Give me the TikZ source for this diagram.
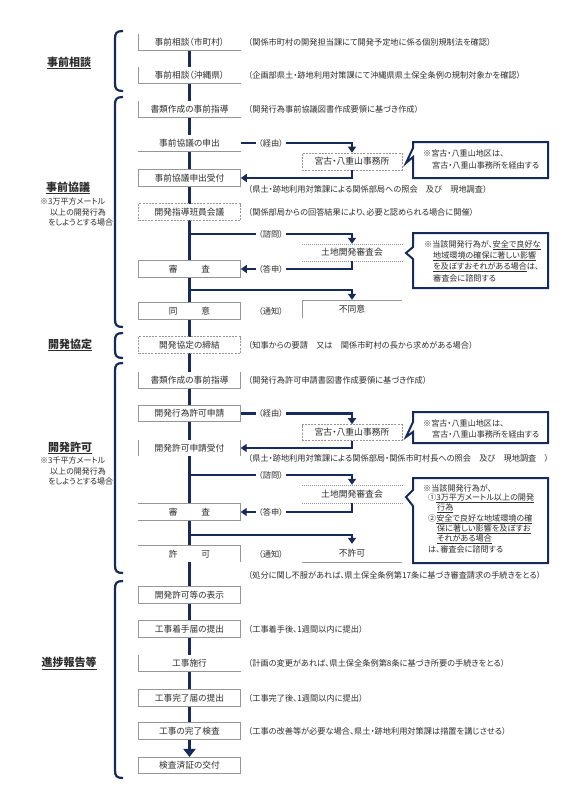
\documentclass[tikz,border=0pt]{standalone}
\usepackage{fontspec}
\setmainfont{Noto Sans CJK JP}[RawFeature={+palt}]
\usetikzlibrary{arrows.meta}
\pgfdeclarelayer{bg}
\pgfsetlayers{bg,main}
\definecolor{navy}{RGB}{22,42,92}
\definecolor{edgegray}{RGB}{150,150,150}
\definecolor{txt}{RGB}{45,45,45}
\newcommand{\sectbrk}[2]{\draw[brk] (123,#1) .. controls (116.5,#1) and (115,#1+2) .. (115,#1+8) -- (115,#2-8) .. controls (115,#2-2) and (116.5,#2) .. (123,#2);}
\begin{document}
\begin{tikzpicture}[x=1pt,y=-1pt,
  every node/.style={text=txt,inner sep=0pt},
  mbox/.style={font=\fontsize{8.7}{10}\selectfont,fill=white,minimum width=102pt,minimum height=16.5pt},
  fbox/.style={mbox,draw=edgegray,line width=0.6pt},
  dbox/.style={mbox,draw=edgegray,line width=0.6pt,dash pattern=on 2pt off 1.2pt},
  sbox/.style={font=\fontsize{8.8}{10}\selectfont,fill=white,minimum width=100pt,minimum height=17pt},
  sdbox/.style={sbox,draw=edgegray,line width=0.6pt,dash pattern=on 2pt off 1.2pt},
  edge/.style={draw=edgegray,line width=0.6pt},
  dotedge/.style={draw=edgegray,line width=0.6pt,dash pattern=on 1pt off 1pt},
  main/.style={draw=navy,line width=3.4pt},
  branch/.style={draw=navy,line width=2.8pt},
  tipd/.style={-{Triangle[width=8pt,length=6pt]}},
  rtext/.style={font=\fontsize{8.2}{10}\selectfont,anchor=west},
  mid/.style={font=\fontsize{8.2}{10}\selectfont,inner xsep=2.5pt},
  sect/.style={font=\fontsize{11}{13}\selectfont\bfseries},
  note/.style={font=\fontsize{8}{10}\selectfont,anchor=west},
  brk/.style={draw=navy,line width=2.2pt},
  callout/.style={draw=navy,line width=2pt,fill=white,line join=miter},
  ctext/.style={font=\fontsize{8.1}{10}\selectfont,anchor=west},
]
\begin{pgfonlayer}{bg}
\fill[white] (0,0) rectangle (566,800);
\end{pgfonlayer}
\useasboundingbox (0,0) rectangle (566,800);

% ---- main column boxes
\node[mbox] (b1) at (189.5,42) {事前相談（市町村）};
\node[mbox] (b2) at (189.5,75) {事前相談（沖縄県）};
\node[mbox] (b3) at (189.5,109) {書類作成の事前指導};
\node[mbox] (b4) at (189.5,143) {事前協議の申出};
\node[fbox] (b5) at (189.5,178) {事前協議申出受付};
\node[dbox] (b6) at (189.5,212) {開発指導班員会議};
\node[fbox] (b7) at (189.5,269) {審\hspace{24pt}査};
\node[fbox] (b8) at (189.5,311) {同\hspace{24pt}意};
\node[dbox] (b9) at (189.5,345) {開発協定の締結};
\node[mbox] (b10) at (189.5,380) {書類作成の事前指導};
\node[fbox] (b11) at (189.5,413.5) {開発行為許可申請};
\node[mbox] (b12) at (189.5,448) {開発許可申請受付};
\node[mbox] (b13) at (189.5,512) {審\hspace{24pt}査};
\node[mbox] (b14) at (189.5,554) {許\hspace{24pt}可};
\node[fbox] (b15) at (189.5,595) {開発許可等の表示};
\node[fbox] (b16) at (189.5,629) {工事着手届の提出};
\node[mbox] (b17) at (189.5,663) {工事施行};
\node[fbox] (b18) at (189.5,698) {工事完了届の提出};
\node[fbox] (b19) at (189.5,731) {工事の完了検査};
\node[fbox] (b20) at (189.5,765.5) {検査済証の交付};

% partial borders
\draw[edge] (b1.north west) -- (b1.south west) -- (b1.south east);
\draw[edge] (b2.north west) -- (b2.south west) -- (b2.south east);
\draw[edge] (b3.north west) -- (b3.south west) -- (b3.south east);
\draw[edge] (b4.south west) -- (b4.south east);
\draw[edge] (b10.north west) -- (b10.south west) -- (b10.south east) -- (b10.north east);
\draw[edge] (b12.north west) -- (b12.south west);
\draw[edge] (b12.north east) -- (b12.south east);
\draw[edge] (b13.north west) -- (b13.north east) -- (b13.south east) -- (b13.south west);
\draw[edge] (b14.north west) -- (b14.north east) -- (b14.south east);
\draw[edge] (b17.north west) -- (b17.south west) -- (b17.south east);

% main vertical line
\begin{pgfonlayer}{bg}
\draw[main,-{Triangle[width=12pt,length=8pt]}] (b1.south) -- (b20.north);
\end{pgfonlayer}

% ---- right-hand remarks
\node[rtext] (r1) at (248,42) {（関係市町村の開発担当課にて開発予定地に係る個別規制法を確認）};
\node[rtext] (r2) at (248,75) {（企画部県土・跡地利用対策課にて沖縄県県土保全条例の規制対象かを確認）};
\node[rtext] (r3) at (248,109) {（開発行為事前協議図書作成要領に基づき作成）};
\node[rtext] (r5) at (248,189) {（県土・跡地利用対策課による関係部局への照会　及び　現地調査）};
\node[rtext] (r6) at (248,212) {（関係部局からの回答結果により、必要と認められる場合に開催）};
\node[rtext] (r9) at (248,345) {（知事からの要請　又は　関係市町村の長から求めがある場合）};
\node[rtext] (r10) at (248,380) {（開発行為許可申請書図書作成要領に基づき作成）};
\node[rtext] (r12) at (248,458) {（県土・跡地利用対策課による関係部局・関係市町村長への照会　及び　現地調査　）};
\node[rtext] (r14) at (248,575) {（処分に関し不服があれば、県土保全条例第17条に基づき審査請求の手続きをとる）};
\node[rtext] (r16) at (248,629) {（工事着手後、1週間以内に提出）};
\node[rtext] (r17) at (248,663) {（計画の変更があれば、県土保全条例第8条に基づき所要の手続きをとる）};
\node[rtext] (r18) at (248,698) {（工事完了後、1週間以内に提出）};
\node[rtext] (r19) at (248,731) {（工事の改善等が必要な場合、県土・跡地利用対策課は措置を講じさせる）};

% ---- middle labels
\node[mid] (m1) at (271,143) {（経由）};
\node[mid] (m2) at (271,234) {（諮問）};
\node[mid] (m3) at (271,269) {（答申）};
\node[mid] (m4) at (271,311) {（通知）};
\node[mid] (m5) at (271,413.5) {（経由）};
\node[mid] (m6) at (271,475) {（諮問）};
\node[mid] (m7) at (271,512) {（答申）};
\node[mid] (m8) at (271,554) {（通知）};

% ---- side boxes
\node[sdbox] (k1) at (352,161.5) {宮古・八重山事務所};
\node[sbox] (k2) at (352,252.5) {土地開発審査会};
\draw[dotedge] (k2.north west) -- (k2.north east);
\draw[dotedge] (k2.south west) -- (k2.south east);
\node[sbox,minimum height=18pt] (k3) at (352,309) {不同意};
\draw[edge] (k3.south west) -- (k3.north west) -- (k3.north east);
\node[sdbox,minimum height=16pt] (k4) at (352,432.5) {宮古・八重山事務所};
\node[sbox,minimum height=18pt] (k5) at (352,494) {土地開発審査会};
\draw[dotedge] (k5.north west) -- (k5.north east);
\draw[dotedge] (k5.south west) -- (k5.south east);
\node[sbox,minimum height=18pt] (k6) at (352,553) {不許可};
\draw[edge] (k6.south west) -- (k6.south east);

% ---- branch connectors
\coordinate (s1) at (189.5,234);
\coordinate (s2) at (189.5,290);
\coordinate (s3) at (189.5,475);
\coordinate (s4) at (189.5,535);

\draw[branch] (b4.east) -- (m1.west);
\draw[branch,tipd] (m1.east) -| (k1.north);
\draw[branch,tipd] (k1.south) |- (b5.east);

\draw[branch] (s1) -- (m2.west);
\draw[branch,tipd] (m2.east) -| (k2.north);
\draw[branch] (k2.south) |- (m3.east);
\draw[branch,tipd] (m3.west) -- (b7.east);
\draw[branch,tipd] (s2) -| (k3.north);

\draw[branch] (b11.east) -- (m5.west);
\draw[branch,tipd] (m5.east) -| (k4.north);
\draw[branch,tipd] (k4.south) |- (b12.east);

\draw[branch] (s3) -- (m6.west);
\draw[branch,tipd] (m6.east) -| (k5.north);
\draw[branch] (k5.south) |- (m7.east);
\draw[branch,tipd] (m7.west) -- (b13.east);
\draw[branch,tipd] (s4) -| (k6.north);

% ---- callouts
\draw[callout] (413,142) -- (548,142) -- (548,178) -- (413,178) -- (413,157) -- (406,163) -- (413,148) -- cycle;
\node[ctext] (c1a) at (423,153) {※宮古・八重山地区は、};
\node[ctext] (c1b) at (432,165) {宮古・八重山事務所を経由する};

\draw[callout] (413,233) -- (548,233) -- (548,288) -- (413,288) -- (413,259) -- (406,253) -- (413,247) -- cycle;
\node[ctext] (c2a) at (424,245) {※当該開発行為が、\underline{安全で良好な}};
\node[ctext] (c2b) at (433,256.5) {\underline{地域環境の確保に著しい影響}};
\node[ctext] (c2c) at (433,267.5) {\underline{を及ぼすおそれがある場合}は、};
\node[ctext] (c2d) at (433,278) {審査会に諮問する};

\draw[callout] (413,412) -- (548,412) -- (548,443) -- (413,443) -- (413,432) -- (406,437) -- (413,422) -- cycle;
\node[ctext] (c3a) at (423,423) {※宮古・八重山地区は、};
\node[ctext] (c3b) at (432,434) {宮古・八重山事務所を経由する};

\draw[callout] (413,478) -- (548,478) -- (548,563) -- (413,563) -- (413,506) -- (406,497) -- (413,490) -- cycle;
\node[ctext] (c4a) at (423,488) {※当該開発行為が、};
\node[ctext] (c4b) at (428,498) {①\underline{3万平方メートル以上の開発}};
\node[ctext] (c4c) at (437,508.5) {\underline{行為}};
\node[ctext] (c4d) at (428,519) {②\underline{安全で良好な地域環境の確}};
\node[ctext] (c4e) at (437,529) {\underline{保に著しい影響を及ぼすお}};
\node[ctext] (c4f) at (437,539) {\underline{それがある場合}};
\node[ctext] (c4g) at (428,549) {は、審査会に諮問する};

% ---- section brackets and labels
\sectbrk{31}{91}
\sectbrk{97}{327}
\sectbrk{333}{358}
\sectbrk{363}{573}
\sectbrk{581}{778}

\node[sect] (L1) at (69,63) {\underline{事前相談}};
\node[sect] (L2) at (68,188) {\underline{事前協議}};
\node[note] (n2a) at (40,201) {※3万平方メートル};
\node[note] (n2b) at (50,212) {以上の開発行為};
\node[note] (n2c) at (48,222.5) {をしようとする場合};
\node[sect] (L3) at (70,345) {\underline{開発協定}};
\node[sect] (L4) at (70,448) {\underline{開発許可}};
\node[note] (n4a) at (40,460) {※3千平方メートル};
\node[note] (n4b) at (50,471) {以上の開発行為};
\node[note] (n4c) at (48,481.5) {をしようとする場合};
\node[sect] (L5) at (69,663) {\underline{進捗報告等}};
\end{tikzpicture}
\end{document}
